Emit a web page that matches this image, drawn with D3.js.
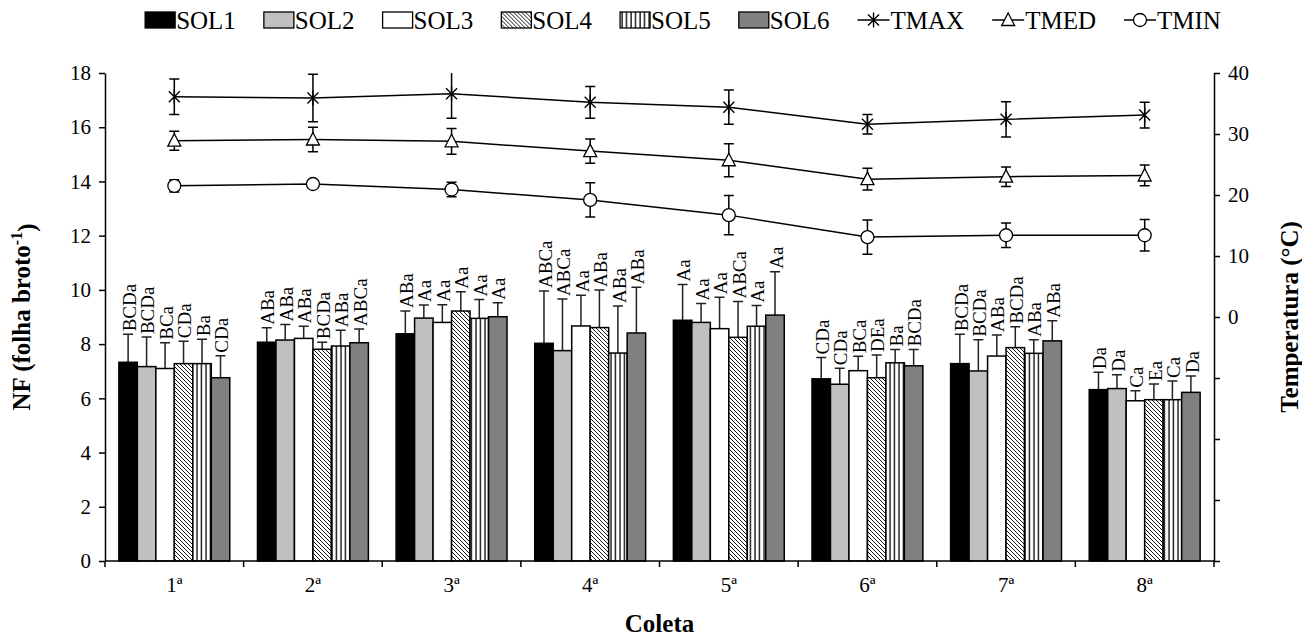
<!DOCTYPE html>
<html>
<head>
<meta charset="utf-8">
<script src="https://cdn.jsdelivr.net/npm/d3@7"></script>
<style>
  body { margin: 0; background: #fff; }
  text { font-family: "Liberation Serif", "Times New Roman", serif; fill: #000; }
</style>
</head>
<body>
<div id="chart"></div>
<script>
// categories and series
const coletas = ['1ª', '2ª', '3ª', '4ª', '5ª', '6ª', '7ª', '8ª'];
const solos = ['SOL1', 'SOL2', 'SOL3', 'SOL4', 'SOL5', 'SOL6'];

// NF means per soil (one value per coleta)
const sol1 = [7.33, 8.07, 8.38, 8.03, 8.88, 6.72, 7.28, 6.32];
const sol2 = [7.17, 8.15, 8.96, 7.76, 8.80, 6.52, 7.01, 6.36];
const sol3 = [7.10, 8.21, 8.80, 8.67, 8.57, 7.02, 7.56, 5.91];
const sol4 = [7.28, 7.81, 9.22, 8.61, 8.25, 6.76, 7.87, 5.95];
const sol5 = [7.28, 7.93, 8.95, 7.67, 8.66, 7.31, 7.66, 5.95];
const sol6 = [6.76, 8.05, 9.01, 8.41, 9.07, 7.20, 8.12, 6.22];

// standard deviations (upper error bars)
const sol1Err = [1.03, 0.53, 0.84, 1.93, 1.32, 0.79, 1.08, 0.64];
const sol2Err = [1.09, 0.57, 0.48, 1.90, 0.70, 0.59, 1.15, 0.51];
const sol3Err = [0.95, 0.45, 0.65, 1.13, 1.16, 0.53, 0.78, 0.37];
const sol4Err = [0.83, 0.26, 0.71, 1.39, 1.32, 0.84, 0.77, 0.58];
const sol5Err = [0.90, 0.58, 0.70, 1.74, 0.76, 0.49, 0.50, 0.69];
const sol6Err = [0.81, 0.51, 0.52, 1.69, 1.60, 0.60, 0.74, 0.60];

// test letters above bars
const sol1Lab = ['BCDa', 'ABa', 'ABa', 'ABCa', 'Aa', 'CDa', 'BCDa', 'Da'];
const sol2Lab = ['BCDa', 'ABa', 'Aa', 'ABCa', 'Aa', 'CDa', 'BCDa', 'Da'];
const sol3Lab = ['BCa', 'ABa', 'Aa', 'Aa', 'Aa', 'BCa', 'ABa', 'Ca'];
const sol4Lab = ['CDa', 'BCDa', 'Aa', 'ABa', 'ABCa', 'DEa', 'BCDa', 'Ea'];
const sol5Lab = ['Ba', 'ABa', 'Aa', 'ABa', 'Aa', 'Ba', 'ABa', 'Ca'];
const sol6Lab = ['CDa', 'ABCa', 'Aa', 'ABa', 'Aa', 'BCDa', 'ABa', 'Da'];

// temperatures (°C)
const tmax = [36.1, 35.9, 36.6, 35.2, 34.4, 31.6, 32.4, 33.1];
const tmaxErr = [2.9, 3.9, 4.0, 2.6, 2.8, 1.6, 2.9, 2.1];
const tmed = [28.9, 29.1, 28.8, 27.2, 25.7, 22.6, 23.0, 23.2];
const tmedErr = [1.55, 2.0, 2.1, 2.0, 2.7, 1.8, 1.6, 1.7];
const tmin = [21.5, 21.8, 20.9, 19.2, 16.7, 13.1, 13.4, 13.4];
const tminErr = [1.0, 0.3, 1.2, 2.8, 3.2, 2.8, 2.0, 2.6];

// axis ticks
const nfTicks = [0, 2, 4, 6, 8, 10, 12, 14, 16, 18];
const tempTicks = [-40, -30, -20, -10, 0, 10, 20, 30, 40];
const tempLabels = [0, 10, 20, 30, 40];

const solValues = [sol1, sol2, sol3, sol4, sol5, sol6];
const solErrs = [sol1Err, sol2Err, sol3Err, sol4Err, sol5Err, sol6Err];
const solLabs = [sol1Lab, sol2Lab, sol3Lab, sol4Lab, sol5Lab, sol6Lab];
const solFills = ['#000000', '#c0c0c0', '#ffffff', 'url(#hatch)', 'url(#vlines)', '#808080'];

const W = 1302, H = 638;
const margin = { top: 73, right: 88, bottom: 77, left: 105 };
const width = W - margin.left - margin.right;
const height = H - margin.top - margin.bottom;

const svg = d3.select('#chart').append('svg')
  .attr('width', W)
  .attr('height', H);

const defs = svg.append('defs');

// diagonal hatch for SOL4
const hatch = defs.append('pattern')
  .attr('id', 'hatch')
  .attr('patternUnits', 'userSpaceOnUse')
  .attr('width', 4).attr('height', 4);
hatch.append('rect').attr('width', 4).attr('height', 4).attr('fill', '#fff');
hatch.append('path')
  .attr('d', 'M-1,-1 L5,5 M-1,3 L1,5 M3,-1 L5,1')
  .attr('stroke', '#000').attr('stroke-width', 0.9);

// vertical lines for SOL5
const vl = defs.append('pattern')
  .attr('id', 'vlines')
  .attr('patternUnits', 'userSpaceOnUse')
  .attr('width', 4.5).attr('height', 4);
vl.append('rect').attr('width', 4.5).attr('height', 4).attr('fill', '#fff');
vl.append('line')
  .attr('x1', 2).attr('x2', 2).attr('y1', 0).attr('y2', 4)
  .attr('stroke', '#000').attr('stroke-width', 1.3);

defs.append('clipPath').attr('id', 'plotclip')
  .append('rect').attr('x', 0).attr('y', 0).attr('width', width).attr('height', height);

const g = svg.append('g').attr('transform', `translate(${margin.left},${margin.top})`);

// scales
const x = d3.scaleBand().domain(coletas).range([0, width]).paddingInner(0.2).paddingOuter(0.1);
const xs = d3.scaleBand().domain(solos).range([0, x.bandwidth()]);
const y = d3.scaleLinear().domain([0, 18]).range([height, 0]);
const y2 = d3.scaleLinear().domain([-40, 40]).range([height, 0]);
const xc = d => x(d) + x.bandwidth() / 2;

// bars
solos.forEach((s, si) => {
  const rows = coletas.map((c, i) => ({ c, v: solValues[si][i], e: solErrs[si][i], lab: solLabs[si][i] }));
  const grp = g.append('g');

  // error bars (upper only)
  grp.selectAll('.err').data(rows).enter().append('path')
    .attr('d', d => {
      const cx = x(d.c) + xs(s) + xs.bandwidth() / 2;
      const yt = y(d.v + d.e);
      return `M${cx},${y(d.v)}V${yt}M${cx - 5},${yt}H${cx + 5}`;
    })
    .attr('stroke', '#222').attr('stroke-width', 1.5).attr('fill', 'none');

  grp.selectAll('.bar').data(rows).enter().append('rect')
    .attr('x', d => x(d.c) + xs(s))
    .attr('y', d => y(d.v))
    .attr('width', xs.bandwidth())
    .attr('height', d => height - y(d.v))
    .attr('fill', solFills[si])
    .attr('stroke', '#000').attr('stroke-width', 1.5);

  grp.selectAll('.lab').data(rows).enter().append('text')
    .attr('transform', d => {
      const cx = x(d.c) + xs(s) + xs.bandwidth() / 2;
      return `translate(${cx + 1},${y(d.v + d.e) - 3}) rotate(-90)`;
    })
    .attr('dy', '0.35em')
    .style('font-size', '19px')
    .text(d => d.lab);
});

// temperature lines
const tempSeries = [
  { name: 'TMAX', v: tmax, e: tmaxErr, shape: 'star' },
  { name: 'TMED', v: tmed, e: tmedErr, shape: 'tri' },
  { name: 'TMIN', v: tmin, e: tminErr, shape: 'circ' }
];

function drawMarker(sel, shape) {
  if (shape === 'star') {
    sel.append('path')
      .attr('d', 'M-5.5,-5.5L5.5,5.5M-5.5,5.5L5.5,-5.5M0,-7.5V7.5')
      .attr('stroke', '#000').attr('stroke-width', 1.4).attr('fill', 'none');
  } else if (shape === 'tri') {
    sel.append('path')
      .attr('d', 'M0,-7L6.5,5.5H-6.5Z')
      .attr('stroke', '#000').attr('stroke-width', 1.3).attr('fill', '#fff');
  } else {
    sel.append('circle').attr('r', 6.5)
      .attr('stroke', '#000').attr('stroke-width', 1.3).attr('fill', '#fff');
  }
}

const tg = g.append('g').attr('clip-path', 'url(#plotclip)');
tempSeries.forEach(ts => {
  const pts = coletas.map((c, i) => ({ c, v: ts.v[i], e: ts.e[i] }));
  tg.append('path')
    .datum(pts)
    .attr('d', d3.line().x(d => xc(d.c)).y(d => y2(d.v)))
    .attr('fill', 'none').attr('stroke', '#000').attr('stroke-width', 1.5);
  tg.selectAll(null).data(pts).enter().append('path')
    .attr('d', d => {
      const cx = xc(d.c), a = y2(d.v + d.e), b = y2(d.v - d.e);
      return `M${cx},${a}V${b}M${cx - 5},${a}H${cx + 5}M${cx - 5},${b}H${cx + 5}`;
    })
    .attr('stroke', '#000').attr('stroke-width', 1.5).attr('fill', 'none');
  tg.selectAll(null).data(pts).enter().append('g')
    .attr('transform', d => `translate(${xc(d.c)},${y2(d.v)})`)
    .each(function () { drawMarker(d3.select(this), ts.shape); });
});

// axes
const axisStyle = sel => {
  sel.selectAll('path, line').attr('stroke', '#000').attr('stroke-width', 1.5);
  sel.selectAll('text').style('font-size', '21px').style('font-family', '"Liberation Serif", serif');
};

const xBreaks = d3.range(coletas.length + 1).map(i => i * x.step());
const xAxisG = g.append('g').attr('transform', `translate(0,${height})`);
xAxisG.append('line').attr('x1', 0).attr('x2', width).attr('stroke', '#000').attr('stroke-width', 1.5);
xAxisG.selectAll('.xt').data(xBreaks).enter().append('line')
  .attr('x1', d => d).attr('x2', d => d).attr('y1', 0).attr('y2', 6)
  .attr('stroke', '#000').attr('stroke-width', 1.5);
xAxisG.selectAll('.xl').data(coletas).enter().append('text')
  .attr('x', d => xc(d)).attr('y', 31)
  .attr('text-anchor', 'middle')
  .style('font-size', '21px')
  .text(d => d);

g.append('g')
  .call(d3.axisLeft(y).tickValues(nfTicks).tickSize(6).tickPadding(8).tickSizeOuter(0))
  .call(axisStyle);

g.append('g')
  .attr('transform', `translate(${width},0)`)
  .call(d3.axisRight(y2).tickValues(tempTicks).tickSize(6).tickPadding(8).tickSizeOuter(0)
    .tickFormat(d => tempLabels.includes(d) ? d : ''))
  .call(axisStyle);

// axis titles
svg.append('text')
  .attr('transform', `translate(${margin.left + width / 2},${H - 6})`)
  .attr('text-anchor', 'middle')
  .style('font-size', '25px').style('font-weight', 'bold')
  .text('Coleta');

const yl = svg.append('text')
  .attr('transform', `translate(30,${margin.top + height / 2}) rotate(-90)`)
  .attr('text-anchor', 'middle')
  .style('font-size', '25px').style('font-weight', 'bold');
yl.append('tspan').text('NF (folha broto');
yl.append('tspan').attr('dy', '-0.5em').style('font-size', '16px').text('-1');
yl.append('tspan').attr('dy', '0.5em').text(')');

svg.append('text')
  .attr('transform', `translate(1289,${margin.top + height / 2}) rotate(-90)`)
  .attr('text-anchor', 'middle')
  .attr('dy', '0.35em')
  .style('font-size', '25px').style('font-weight', 'bold')
  .text('Temperatura (°C)');

// legend
const legend = svg.append('g').attr('transform', 'translate(0,20)');
const legItems = solos.map((s, i) => ({ name: s, fill: solFills[i] }))
  .concat(tempSeries.map(t => ({ name: t.name, shape: t.shape })));
let lx = 0;
const gap = 28;
const itemsG = legend.append('g');
legItems.forEach(it => {
  const ig = itemsG.append('g').attr('transform', `translate(${lx},0)`);
  let sw;
  if (it.fill) {
    ig.append('rect').attr('x', 0).attr('y', -8).attr('width', 30).attr('height', 16)
      .attr('fill', it.fill).attr('stroke', '#000').attr('stroke-width', 1.3);
    sw = 31;
  } else {
    ig.append('line').attr('x1', 0).attr('x2', 32).attr('stroke', '#000').attr('stroke-width', 1.4);
    const mg = ig.append('g').attr('transform', 'translate(16,0)');
    drawMarker(mg, it.shape);
    sw = 33;
  }
  const t = ig.append('text').attr('x', sw).attr('dy', '0.35em')
    .style('font-size', '25px').text(it.name);
  lx += sw + t.node().getComputedTextLength() + gap;
});
itemsG.attr('transform', `translate(${683 - (lx - gap) / 2},0)`);
</script>
</body>
</html>
